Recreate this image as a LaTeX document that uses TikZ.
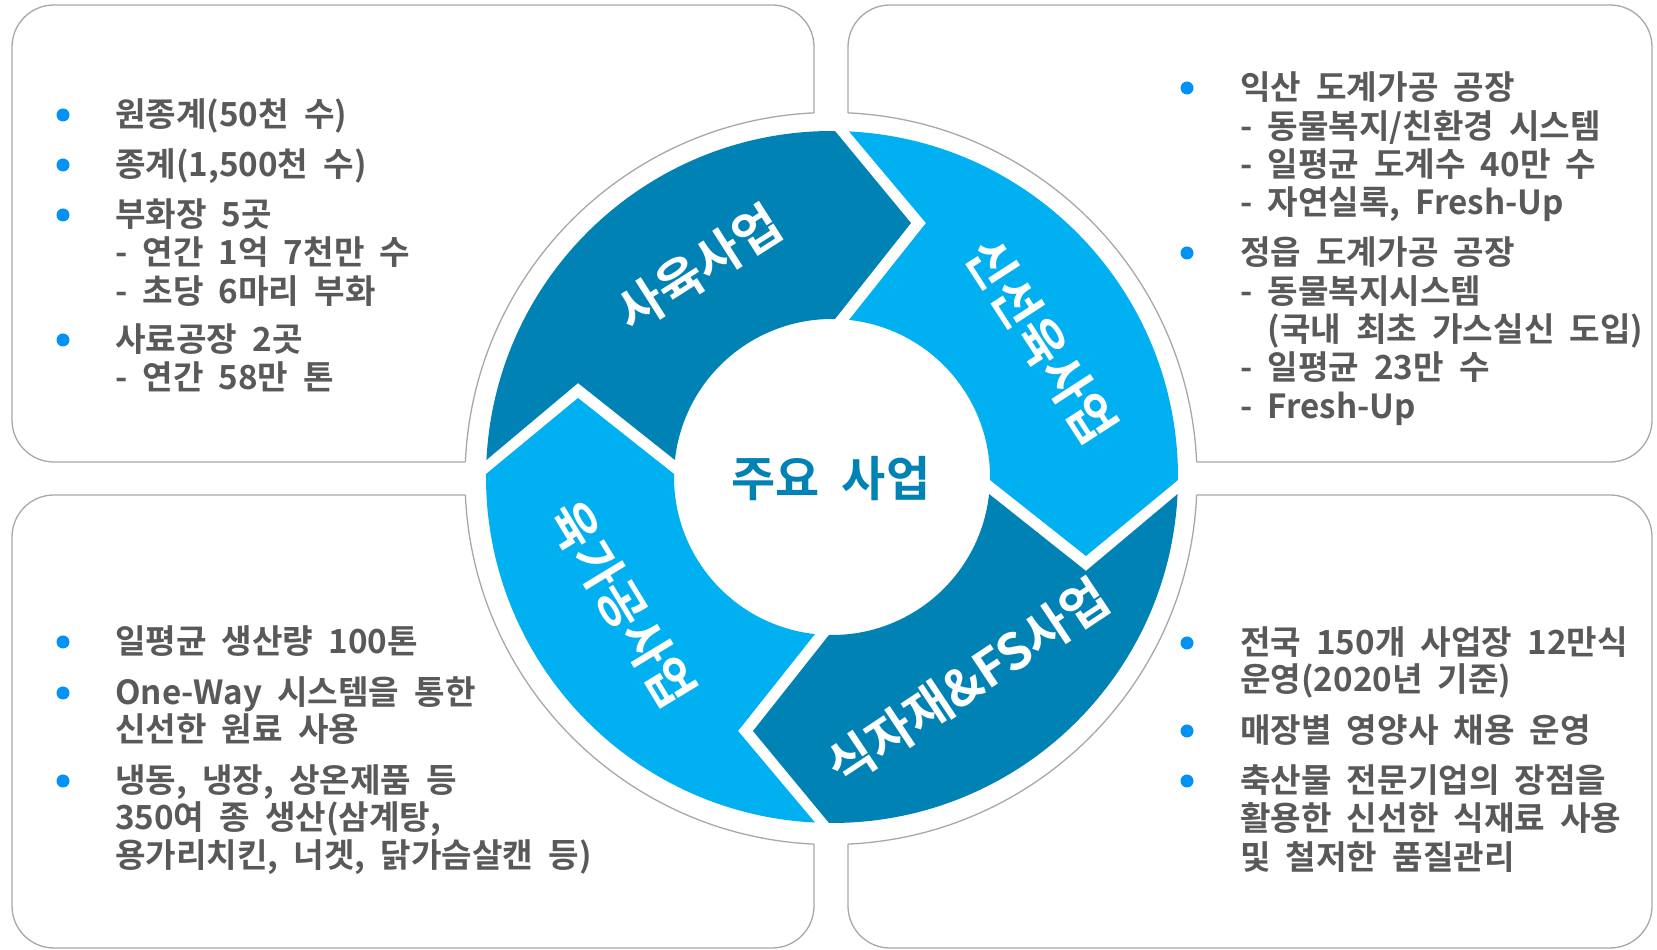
\documentclass[tikz,border=0pt]{standalone}
\usepackage{fontspec}
\setmainfont{Noto Sans CJK KR}[BoldFont={Noto Sans CJK KR Bold}, WordSpace=2]
\definecolor{darkseg}{RGB}{0,131,180}
\definecolor{lightseg}{RGB}{0,176,240}
\definecolor{txtgray}{RGB}{89,89,89}
\definecolor{bulletc}{RGB}{0,146,247}
\definecolor{boxgray}{RGB}{168,168,168}
\newcommand\ringseg[3]{%
  \fill[#3] ({#1-2.82}:346pt) arc[start angle={#1-2.82}, end angle={#2-0.5}, radius=346pt]
    -- ({#2-17.28}:266pt) -- ({#2-1.09}:158pt)
    arc[start angle={#2-1.09}, end angle={#1-6.18}, radius=158pt]
    -- ({#1-20.3}:270.8pt) -- cycle;}
\begin{document}
\begin{tikzpicture}[x=1pt,y=1pt,
  boxline/.style={draw=boxgray, line width=1.3pt},
  body/.style={anchor=base west, inner sep=0pt, text=txtgray, font=\fontsize{33.2}{39}\selectfont\bfseries},
  bul/.style={circle, fill=bulletc, minimum size=13pt, inner sep=0pt},
  lbl/.style={inner sep=0pt, text=white, font=\fontsize{50}{55}\selectfont\bfseries},
  hubtxt/.style={inner sep=0pt, text=darkseg, font=\fontsize{48}{54}\selectfont\bfseries}]
\useasboundingbox (0,0) rectangle (1657,950);
\fill[white] (0,0) rectangle (1657,950);
% box outlines outside the big circle
\begin{scope}
  \clip (0,0) -- (1657,0) -- (1657,950) -- (0,950) -- cycle
        (1197,471.5) arc[start angle=0, end angle=-360, radius=366pt];
  \draw[boxline, rounded corners=42pt] (12,488) rectangle (814,945);
  \draw[boxline, rounded corners=42pt] (848,488) rectangle (1652,945);
  \draw[boxline, rounded corners=42pt] (12,2) rectangle (814,455);
  \draw[boxline, rounded corners=42pt] (848,2) rectangle (1652,455);
\end{scope}
% circle arcs inside the boxes
\begin{scope}
  \clip[rounded corners=42pt] (12,488) rectangle (814,945) (848,488) rectangle (1652,945)
        (12,2) rectangle (814,455) (848,2) rectangle (1652,455);
  \draw[boxline] (831,471.5) circle[radius=366pt];
\end{scope}
% ring
\begin{scope}[shift={(832,473)}]
  \ringseg{180}{90}{darkseg}
  \ringseg{90}{0}{lightseg}
  \ringseg{0}{-90}{darkseg}
  \ringseg{-90}{-180}{lightseg}
  \node[lbl, rotate=32.5] (l1) at (122.5:248pt) {사육사업};
  \node[lbl, rotate=-57.1] (l2) at (32.9:250pt) {신선육사업};
  \node[lbl, rotate=33.6] (l3) at (-56.4:246pt) {식자재\&FS사업};
  \node[lbl, rotate=-58.7] (l4) at (211.3:245pt) {육가공사업};
\end{scope}
\node[hubtxt] (hub) at (831,471) {주요 사업};
% top-left
\node[bul] (tlb1) at (63,835) {};
\node[bul] (tlb2) at (63,785) {};
\node[bul] (tlb3) at (63,735) {};
\node[bul] (tlb4) at (63,610) {};
\node[body] (tl1) at (115,823) {원종계(50천 수)};
\node[body] (tl2) at (115,773) {종계(1,500천 수)};
\node[body] (tl3) at (115,723) {부화장 5곳};
\node[body] (tl4) at (115,685) {- 연간 1억 7천만 수};
\node[body] (tl5) at (115,646) {- 초당 6마리 부화};
\node[body] (tl6) at (115,598) {사료공장 2곳};
\node[body] (tl7) at (115,560) {- 연간 58만 톤};
% top-right
\node[bul] (trb1) at (1187,862) {};
\node[bul] (trb2) at (1187,697) {};
\node[body] (tr1) at (1240,850) {익산 도계가공 공장};
\node[body] (tr2) at (1240,811) {- 동물복지/친환경 시스템};
\node[body] (tr3) at (1240,773) {- 일평균 도계수 40만 수};
\node[body] (tr4) at (1240,735) {- 자연실록, Fresh-Up};
\node[body] (tr5) at (1240,685) {정읍 도계가공 공장};
\node[body] (tr6) at (1240,646) {- 동물복지시스템};
\node[body] (tr7) at (1240,608) {\hphantom{- }(국내 최초 가스실신 도입)};
\node[body] (tr8) at (1240,570) {- 일평균 23만 수};
\node[body] (tr9) at (1240,531) {- Fresh-Up};
% bottom-right
\node[bul] (brb1) at (1187,307) {};
\node[bul] (brb2) at (1187,219) {};
\node[bul] (brb3) at (1187,169) {};
\node[body] (br1) at (1240,295) {전국 150개 사업장 12만식};
\node[body] (br2) at (1240,258) {운영(2020년 기준)};
\node[body] (br3) at (1240,207) {매장별 영양사 채용 운영};
\node[body] (br4) at (1240,157) {축산물 전문기업의 장점을};
\node[body] (br5) at (1240,119) {활용한 신선한 식재료 사용};
\node[body] (br6) at (1240,80) {및 철저한 품질관리};
% bottom-left
\node[bul] (blb1) at (63,308) {};
\node[bul] (blb2) at (63,257) {};
\node[bul] (blb3) at (63,169) {};
\node[body] (bl1) at (115,296) {일평균 생산량 100톤};
\node[body] (bl2) at (115,245) {One-Way 시스템을 통한};
\node[body] (bl3) at (115,208) {신선한 원료 사용};
\node[body] (bl4) at (115,157) {냉동, 냉장, 상온제품 등};
\node[body] (bl5) at (115,120) {350여 종 생산(삼계탕,};
\node[body] (bl6) at (115,82) {용가리치킨, 너겟, 닭가슴살캔 등)};
\end{tikzpicture}
\end{document}
